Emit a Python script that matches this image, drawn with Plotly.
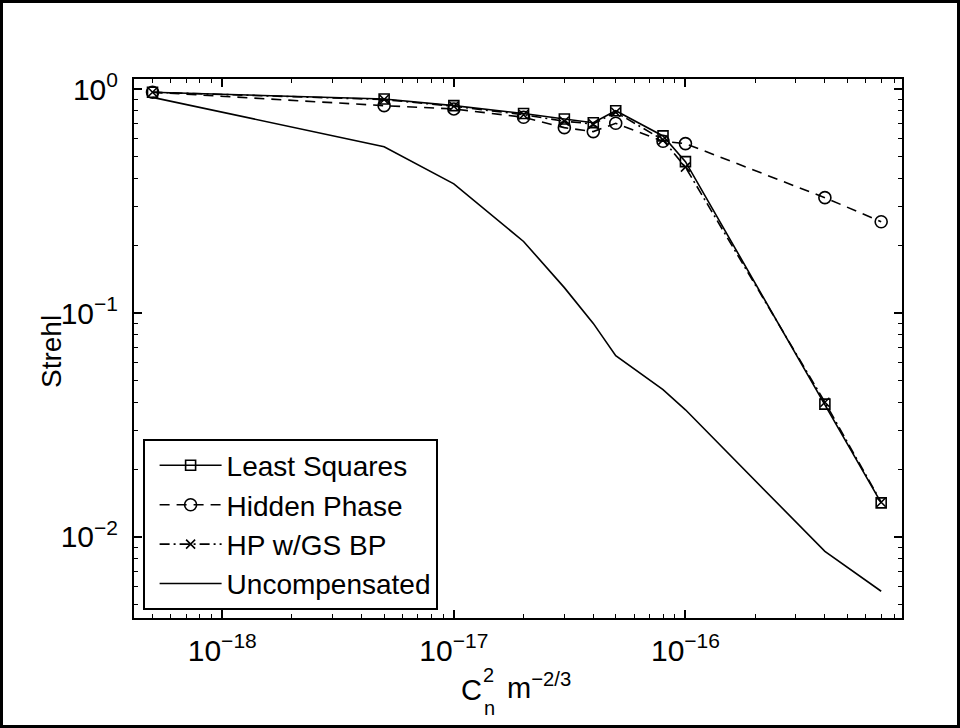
import numpy as np
import plotly.graph_objects as go

# Turbulence strength C_n^2 (m^-2/3) for each simulation run
cn2 = [5e-19, 5e-18, 1e-17, 2e-17, 3e-17, 4e-17, 5e-17, 8e-17, 1e-16, 4e-16, 7e-16]

# Strehl ratio per reconstructor
least_squares = [0.97, 0.905, 0.845, 0.78, 0.737, 0.709, 0.802, 0.619, 0.475, 0.0392, 0.0142]
hidden_phase = [0.97, 0.845, 0.817, 0.75, 0.674, 0.647, 0.705, 0.586, 0.572, 0.328, 0.256]
hp_gs_bp = [0.97, 0.90, 0.84, 0.77, 0.72, 0.70, 0.79, 0.594, 0.449, 0.040, 0.0143]
uncompensated = [0.92, 0.554, 0.378, 0.209, 0.13, 0.090, 0.0645, 0.0455, 0.037, 0.00862, 0.00572]

# Axis tick positions and labels
x_tick_vals = [1e-18, 1e-17, 1e-16]
x_tick_text = ["10<sup>−18</sup>", "10<sup>−17</sup>", "10<sup>−16</sup>"]
y_tick_vals = [1e-2, 1e-1, 1e0]
y_tick_text = ["10<sup>−2</sup>", "10<sup>−1</sup>", "10<sup>0</sup>"]

FONT = "Liberation Sans, Arial, Helvetica, sans-serif"
W, H = 960, 728
L, R, T, B = 134, 58, 79, 110
PW, PH = W - L - R, H - T - B


def minor_ticks(lo_exp, hi_exp):
    vals = []
    for e in range(lo_exp, hi_exp + 1):
        for k in range(2, 10):
            vals.append(k * 10.0 ** e)
    return vals


fig = go.Figure()

fig.add_trace(go.Scatter(
    x=cn2, y=least_squares, name="Least Squares", mode="lines+markers",
    line=dict(color="black", width=1.6, dash="solid"),
    marker=dict(symbol="square-open", size=10, color="black", line=dict(width=1.6)),
))
fig.add_trace(go.Scatter(
    x=cn2, y=hidden_phase, name="Hidden Phase", mode="lines+markers",
    line=dict(color="black", width=1.6, dash="10px,7px"),
    marker=dict(symbol="circle-open", size=12, color="black", line=dict(width=1.6)),
))
fig.add_trace(go.Scatter(
    x=cn2, y=hp_gs_bp, name="HP w/GS BP", mode="lines+markers",
    line=dict(color="black", width=1.6, dash="10px,4px,2px,4px"),
    marker=dict(symbol="x-thin-open", size=9, color="black", line=dict(width=1.6, color="black")),
))
fig.add_trace(go.Scatter(
    x=cn2, y=uncompensated, name="Uncompensated", mode="lines",
    line=dict(color="black", width=1.6),
))

axis_common = dict(
    type="log",
    automargin=False,
    showgrid=False,
    zeroline=False,
    showline=True,
    linecolor="black",
    linewidth=2,
    mirror="allticks",
    ticks="inside",
    ticklen=8,
    tickwidth=1.5,
    tickcolor="black",
    tickmode="array",
    tickfont=dict(family=FONT, size=30, color="black"),
)

fig.update_xaxes(
    **axis_common,
    range=[-18.381, -15.065],
    tickvals=x_tick_vals,
    ticktext=x_tick_text,
    ticklabelstandoff=5,
    minor=dict(ticks="inside", ticklen=4, tickwidth=1.2, tickcolor="black",
               tickmode="array", tickvals=minor_ticks(-19, -16), showgrid=False),
)
fig.update_yaxes(
    **axis_common,
    range=[-2.362, 0.046],
    tickvals=y_tick_vals,
    ticktext=y_tick_text,
    ticklabelstandoff=8,
    minor=dict(ticks="inside", ticklen=4, tickwidth=1.2, tickcolor="black",
               tickmode="array", tickvals=minor_ticks(-3, 0), showgrid=False),
)


def px_x(p):
    return (p - L) / PW


def px_y(p):
    return (H - B - p) / PH


annotations = [
    # y-axis title
    dict(text="Strehl", x=px_x(51), y=px_y(352), textangle=-90,
         font=dict(family=FONT, size=28, color="black")),
    # x-axis title: C with stacked super/subscript, then m^-2/3
    dict(text="C", x=px_x(471), y=px_y(690),
         font=dict(family=FONT, size=29, color="black")),
    dict(text="2", x=px_x(488.5), y=px_y(675),
         font=dict(family=FONT, size=20, color="black")),
    dict(text="n", x=px_x(489), y=px_y(708),
         font=dict(family=FONT, size=20, color="black")),
    dict(text="m<sup>−2/3</sup>", x=px_x(539), y=px_y(686),
         font=dict(family=FONT, size=29, color="black")),
]
for a in annotations:
    a.update(xref="paper", yref="paper", showarrow=False,
             xanchor="center", yanchor="middle")

fig.update_layout(
    width=W, height=H,
    margin=dict(l=L, r=R, t=T, b=B, pad=0, autoexpand=False),
    paper_bgcolor="white",
    plot_bgcolor="white",
    font=dict(family=FONT, color="black"),
    showlegend=True,
    legend=dict(
        x=px_x(143), y=px_y(610), xanchor="left", yanchor="bottom",
        bgcolor="white", bordercolor="black", borderwidth=1.6,
        font=dict(family=FONT, size=28, color="black"),
        tracegroupgap=0, itemwidth=62, indentation=10,
    ),
    annotations=annotations,
    shapes=[
        # outer frame around the whole figure
        dict(type="rect", xref="paper", yref="paper",
             x0=px_x(1.5), x1=px_x(W - 1.5), y0=px_y(H - 1.5), y1=px_y(1.5),
             line=dict(color="black", width=3), layer="above"),
    ],
)

fig.write_html("out.html", config=dict(displayModeBar=False))
